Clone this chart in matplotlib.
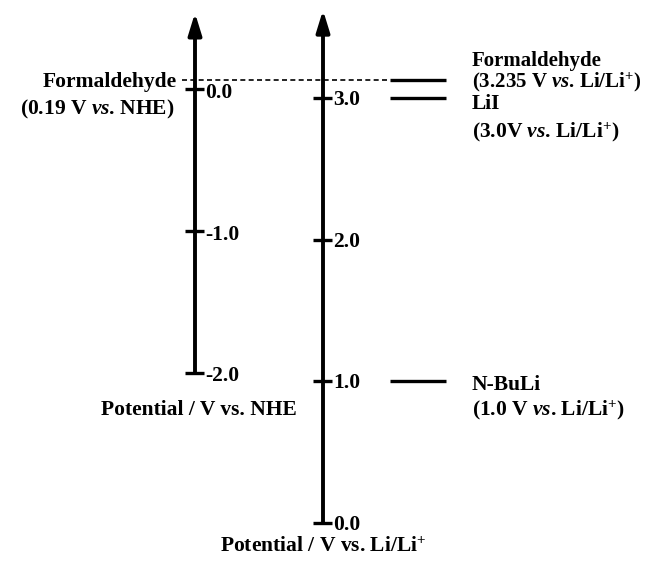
import matplotlib
matplotlib.use("Agg")
import matplotlib.pyplot as plt

# ---- data ----
li_ticks = [0.0, 1.0, 2.0, 3.0]                 # V vs. Li/Li+
li_tick_labels = ["0.0", "1.0", "2.0", "3.0"]
nhe_ticks = [0.0, -1.0, -2.0]                   # V vs. NHE
nhe_tick_labels = ["0.0", "-1.0", "-2.0"]
nhe_offset = 3.06                               # NHE 0 on the Li/Li+ scale (as drawn)
levels = [3.13, 3.0, 1.0]                       # drawn level positions, V vs. Li/Li+
level_names = ["Formaldehyde", "LiI", "N-BuLi"]
level_values = [r"(3.235 V $\it{vs}$. Li/Li$^{+}$)",
                r"(3.0V $\it{vs}$. Li/Li$^{+}$)",
                r"(1.0 V $\it{vs}$. Li/Li$^{+}$)"]
nhe_level_name = "Formaldehyde"
nhe_level_value = r"(0.19 V $\it{vs}$. NHE)"
nhe_axis_title = "Potential / V vs. NHE"
li_axis_title = r"Potential / V vs. Li/Li$^{+}$"

plt.rcParams['font.family'] = ['Liberation Serif', 'DejaVu Serif']
plt.rcParams['font.weight'] = 'bold'
plt.rcParams['mathtext.fontset'] = 'custom'
plt.rcParams['mathtext.rm'] = 'Liberation Serif:bold'
plt.rcParams['mathtext.it'] = 'Liberation Serif:italic:bold'
plt.rcParams['mathtext.bf'] = 'Liberation Serif:bold'

fig = plt.figure(figsize=(6.56, 5.66), dpi=100)
ax = fig.add_axes([0, 0, 1, 1])
ax.set_xlim(0, 656)
ax.set_ylim(-0.303, 3.691)
ax.axis('off')

xl, xr = 195, 323      # axis x positions
fs = 15.5
bl = 0.05              # centre -> baseline shift

def txt(x, y, s, ha='left', size=fs):
    ax.text(x, y - bl, s, fontsize=size, fontweight='bold', va='baseline', ha=ha)

# left axis (NHE)
def nhe(v):
    return nhe_offset + v

ybot_l = nhe(min(nhe_ticks))
ax.annotate("", xy=(xl, 3.60), xytext=(xl, ybot_l),
            arrowprops=dict(arrowstyle="-|>,head_width=0.4,head_length=1.3",
                            lw=2.8, color='black', shrinkA=0, shrinkB=0))
for v, lab in zip(nhe_ticks, nhe_tick_labels):
    y = nhe(v)
    ax.plot([xl - 10, xl + 9], [y, y], color='black', lw=2.4, solid_capstyle='butt')
    txt(xl + 10, y - 0.01, lab)

# right axis (Li/Li+)
ax.annotate("", xy=(xr, 3.62), xytext=(xr, min(li_ticks)),
            arrowprops=dict(arrowstyle="-|>,head_width=0.4,head_length=1.3",
                            lw=2.8, color='black', shrinkA=0, shrinkB=0))
for v, lab in zip(li_ticks, li_tick_labels):
    ax.plot([xr - 10, xr + 9], [v, v], color='black', lw=2.4, solid_capstyle='butt')
    txt(xr + 10, v, lab)

# dashed formaldehyde connector
ax.plot([182, 390], [levels[0], levels[0]], color='black', lw=1.2, ls=(0, (3, 2)))

# level lines
for y in levels:
    ax.plot([390, 446], [y, y], color='black', lw=2.4, solid_capstyle='butt')

# level labels
txt(472, levels[0] + 0.145, level_names[0], size=15)
txt(472, levels[0] - 0.005, level_values[0], size=15)
txt(472, levels[1] - 0.03, level_names[1])
txt(472, levels[1] - 0.23, level_values[1])
txt(472, levels[2] - 0.01, level_names[2])
txt(472, levels[2] - 0.19, level_values[2])

# left-side formaldehyde label
txt(177, levels[0], nhe_level_name, ha='right')
txt(175, levels[0] - 0.20, nhe_level_value, ha='right')

# axis titles
txt(297, nhe(min(nhe_ticks)) - 0.25, nhe_axis_title, ha='right')
txt(323, -0.155, li_axis_title, ha='center')

fig.savefig("out.png", dpi=100)
